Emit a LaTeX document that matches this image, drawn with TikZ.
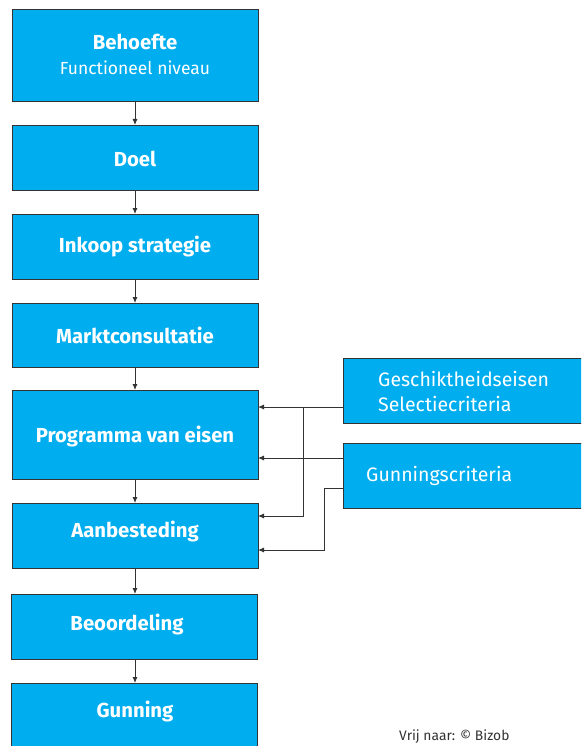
\documentclass[tikz,border=0pt]{standalone}
\usepackage{fontspec}
\setmainfont{Fira Sans}
\usetikzlibrary{arrows.meta,calc}
\definecolor{boxblue}{HTML}{00AEEF}
\definecolor{edge}{HTML}{333333}
\tikzset{
  pbox/.style={draw=edge, line width=0.9pt, fill=boxblue, minimum width=246pt, inner sep=0pt, outer sep=0pt},
  sbox/.style={draw=edge, line width=0.9pt, fill=boxblue, minimum width=260pt, minimum height=65pt, inner sep=0pt, outer sep=0pt, anchor=north west},
  btxt/.style={text=white, font=\fontsize{20.3}{24}\selectfont\bfseries, inner sep=0pt},
  rtxt/.style={text=white, font=\fontsize{19.5}{23}\selectfont, inner sep=0pt},
  ftxt/.style={text=white, font=\fontsize{17.5}{21}\selectfont, inner sep=0pt},
  arr/.style={draw=edge, line width=0.9pt, -{Latex[length=6pt,width=5pt]}},
}
\begin{document}
\begin{tikzpicture}[x=1pt,y=-1pt]
\useasboundingbox (0,0) rectangle (581,746);
\clip (0,0) rectangle (581,746);
\fill[white] (0,0) rectangle (581,746);
% left column boxes
\node[pbox, minimum height=92pt] (b1) at (135,55) {};
\node[pbox, minimum height=65pt] (b2) at (135,157.5) {};
\node[pbox, minimum height=65pt] (b3) at (135,246.5) {};
\node[pbox, minimum height=64pt] (b4) at (135,335) {};
\node[pbox, minimum height=89pt] (b5) at (135,434.5) {};
\node[pbox, minimum height=65pt] (b6) at (135,535.5) {};
\node[pbox, minimum height=65pt] (b7) at (134,626.5) {};
\node[pbox, minimum height=65pt] (b8) at (134,715.5) {};
% texts
\node[btxt] (t1) at (135,42) {Behoefte};
\node[ftxt] (t1b) at (135,68) {Functioneel niveau};
\node[btxt] (t2) at (135,159) {Doel};
\node[btxt] (t3) at (135,247) {Inkoop strategie};
\node[btxt] (t4) at (135,335) {Marktconsultatie};
\node[btxt] (t5) at (135,437) {Programma van eisen};
\node[btxt] (t6) at (135,532) {Aanbesteding};
\node[btxt] (t7) at (127,625) {Beoordeling};
\node[btxt] (t8) at (135,712) {Gunning};
% right boxes
\node[sbox] (r1) at (343,358) {};
\node[sbox] (r2) at (343,443) {};
\node[rtxt, anchor=west] (r1t) at (378,379) {Geschiktheidseisen};
\node[rtxt, anchor=west] (r1u) at (378,404) {Selectiecriteria};
\node[rtxt, anchor=west] (r2t) at (366,476) {Gunningscriteria};
% vertical arrows
\draw[arr] (b1.south) -- (b2.north);
\draw[arr] (b2.south) -- (b3.north);
\draw[arr] (b3.south) -- (b4.north);
\draw[arr] (b4.south) -- (b5.north);
\draw[arr] (b5.south) -- (b6.north);
\draw[arr] (b6.south) -- (b7.north -| b6.south);
\draw[arr] (b7.south -| b6.south) -- (b8.north -| b6.south);
% side connectors
\coordinate (ya) at (0,407);
\coordinate (yb) at (0,516);
\coordinate (yc) at (0,458);
\coordinate (yd) at (0,488);
\coordinate (ye) at (0,550);
\coordinate (xa) at (303,0);
\coordinate (xb) at (324,0);
\draw[arr] (r1.west |- ya) -- (b5.east |- ya);
\draw[arr] (xa |- ya) -- (xa |- yb) -- (b6.east |- yb);
\draw[arr] (r2.west |- yc) -- (b5.east |- yc);
\draw[arr] (r2.west |- yd) -- (xb |- yd) -- (xb |- ye) -- (b6.east |- ye);
% credit
\node[text=edge, font=\fontsize{13.8}{16}\selectfont, anchor=west, inner sep=0pt] (cr) at (399,737) {Vrij naar: © Bizob};
\end{tikzpicture}
\end{document}
